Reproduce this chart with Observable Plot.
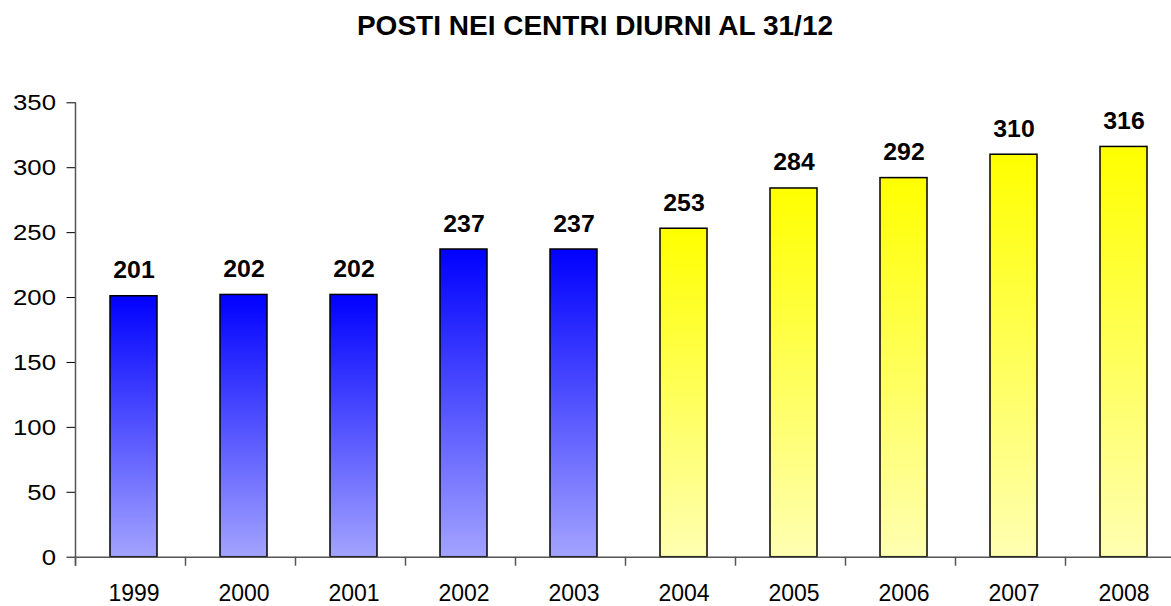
<!DOCTYPE html>
<html><head><meta charset="utf-8">
<script src="https://cdn.jsdelivr.net/npm/d3@7"></script>
<script src="https://cdn.jsdelivr.net/npm/@observablehq/plot@0.6"></script>
<style>
body{margin:0;background:#fff;font-family:"Liberation Sans",Arial,sans-serif;}
#title{height:60px;width:1190px;text-align:center;box-sizing:border-box;padding-top:12px;font-weight:bold;font-size:28px;line-height:28px;color:#000;}
#chart svg{display:block;overflow:hidden;}
</style></head>
<body>
<div id="title">POSTI NEI CENTRI DIURNI AL 31/12</div>
<div id="chart"></div>
<script>
const anni = ["1999","2000","2001","2002","2003","2004","2005","2006","2007","2008"];
const posti = [201, 202, 202, 237, 237, 253, 284, 292, 310, 316];
const periodo = ["A","A","A","A","A","B","B","B","B","B"];
const yTicks = [0, 50, 100, 150, 200, 250, 300, 350];

const data = anni.map((a, i) => ({anno: a, posti: posti[i], periodo: periodo[i]}));

const plot = Plot.plot({
  width: 1171,
  height: 546,
  marginLeft: 75.5,
  marginRight: 0,
  marginTop: 42.3,
  marginBottom: 49.3,
  style: {fontFamily: "'Liberation Sans', Arial, sans-serif", fontSize: "23px", color: "#000", background: "#fff"},
  x: {domain: anni, range: [75.5, 1181], paddingInner: 0.575, paddingOuter: 0.2875, align: 0.5},
  y: {domain: [0, 350], range: [496.7, 42.3]},
  marks: [
    Plot.axisY({ticks: yTicks, tickSize: 9, tickPadding: 11, tickFormat: d => String(d), label: null, stroke: "#000", fontSize: 23, className: "ylab"}),
    Plot.axisX({tickSize: 0, tickPadding: 27, label: null, fontSize: 23, className: "xlab"}),
    Plot.barY(data, {filter: d => d.periodo === "A", x: "anno", y: "posti", fill: "url(#gradBlu)", stroke: "#000", strokeWidth: 1.5}),
    Plot.barY(data, {filter: d => d.periodo === "B", x: "anno", y: "posti", fill: "url(#gradGiallo)", stroke: "#000", strokeWidth: 1.5}),
    Plot.text(data, {x: "anno", y: "posti", text: d => String(d.posti), lineAnchor: "bottom", dy: -18, fontWeight: "bold", fontSize: 23, fill: "#000", className: "vlab"}),
    Plot.ruleY([0], {stroke: "#555", strokeWidth: 1.5})
  ]
});

const svg = d3.select(plot);
const defs = svg.insert("defs", ":first-child");
function grad(id, top, bottom) {
  const g = defs.append("linearGradient").attr("id", id).attr("x1", 0).attr("y1", 0).attr("x2", 0).attr("y2", 1);
  g.append("stop").attr("offset", "0%").attr("stop-color", top);
  g.append("stop").attr("offset", "100%").attr("stop-color", bottom);
}
grad("gradBlu", "#0000ff", "#a3a3ff");
grad("gradGiallo", "#ffff00", "#ffffb2");

// slight horizontal stretch of some labels, as in the reference
function stretch(sel, k) {
  svg.selectAll(sel).each(function() {
    const t = this.getAttribute("transform") || "";
    this.setAttribute("transform", t + ` scale(${k},1)`);
  });
}
stretch(".ylab text", 1.12);
stretch(".vlab text", 1.08);

// y axis line and category boundary ticks from the scales
const xs = plot.scale("x"), ys = plot.scale("y");
const y0 = ys.apply(0), yTop = ys.apply(yTicks[yTicks.length - 1]);
const x0 = xs.range[0];
const extra = svg.append("g").attr("stroke", "#555").attr("stroke-width", 1.5);
extra.append("line").attr("x1", x0).attr("x2", x0).attr("y1", yTop).attr("y2", y0 + 9);
anni.forEach((a, i) => {
  const xb = x0 + i * xs.step;
  extra.append("line").attr("x1", xb).attr("x2", xb).attr("y1", y0).attr("y2", y0 + 9);
});

document.getElementById("chart").appendChild(plot);
</script>
</body></html>
